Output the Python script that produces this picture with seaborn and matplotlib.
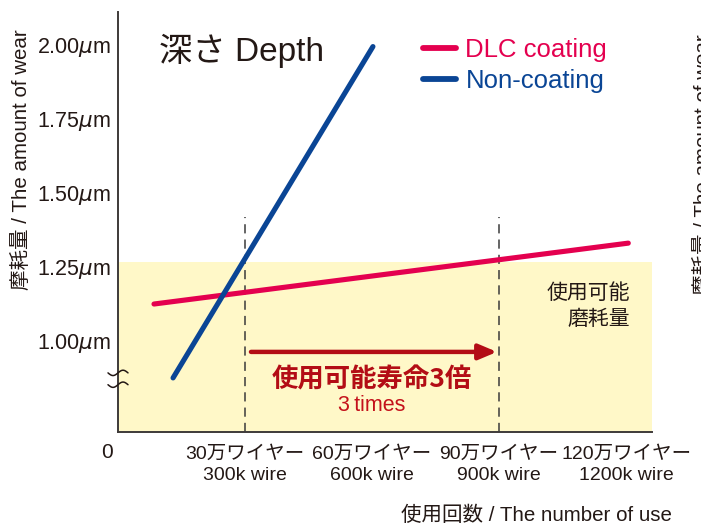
import numpy as np
import pandas as pd
import matplotlib
matplotlib.use("Agg")
import matplotlib.pyplot as plt
from matplotlib.lines import Line2D
import seaborn as sns

# --- data (uses in thousands of wires, wear depth in µm) ---
series_names = ["DLC coating", "Non-coating"]
dlc_uses = [85, 1205]
dlc_wear = [1.122, 1.328]
non_uses = [130, 602]
non_wear = [0.872, 1.993]

xtick_values = [300, 600, 900, 1200]
xtick_labels = ["30万ワイヤー\n300k wire", "60万ワイヤー\n600k wire",
                "90万ワイヤー\n900k wire", "120万ワイヤー\n1200k wire"]
ytick_values = [1.00, 1.25, 1.50, 1.75, 2.00]

usable_limit = 1.265      # top of the usable-wear band
life_start, life_end = 300, 900
life_marker_top = 1.415

colors = {"DLC coating": "#e4004f", "Non-coating": "#0a4595"}
ink = "#231815"
dark_red = "#b30d15"

df = pd.DataFrame({
    "series": ["DLC coating"] * len(dlc_uses) + ["Non-coating"] * len(non_uses),
    "uses": dlc_uses + non_uses,
    "wear": dlc_wear + non_wear,
})

sns.set_theme(style="white")
plt.rcParams["font.family"] = ["Liberation Sans", "Noto Sans CJK JP", "DejaVu Sans"]
plt.rcParams["mathtext.fontset"] = "dejavusans"

fig = plt.figure(figsize=(7.01, 5.24), dpi=100)
W, H = 701, 524
ax = fig.add_axes([118 / W, 1 - 432 / H, (652 - 118) / W, (432 - 12) / H])

xmax = 1261
ymin, ymax = 0.689, 2.11
ax.set_xlim(0, xmax)
ax.set_ylim(ymin, ymax)

# usable-wear band
ax.axhspan(ymin, usable_limit, color="#fff8c8", zorder=0, lw=0)

# dashed markers at 300k and 900k
for xv in (life_start, life_end):
    ax.plot([xv, xv], [ymin, life_marker_top], color="#3a3a3a", lw=1.1,
            dashes=(6, 4), zorder=1)

sns.lineplot(data=df, x="uses", y="wear", hue="series", palette=colors,
             hue_order=series_names, linewidth=3.7, legend=False, sort=False,
             ax=ax, zorder=3)

# three-times life arrow
ax.annotate("", xy=(life_end - 5, 0.96), xytext=(314, 0.96),
            arrowprops=dict(arrowstyle="-|>,head_length=0.9,head_width=0.38",
                            color=dark_red, lw=3.2, shrinkA=0, shrinkB=0),
            zorder=4)
ax.text(600, 0.866, "使用可能寿命3倍", ha="center", va="center",
        fontsize=19, fontweight="bold", color=dark_red,
        family=["Noto Sans CJK JP", "Liberation Sans"])
ax.text(600, 0.780, "3\u2009times", ha="center", va="center",
        fontsize=15.5, color="#c4111b",
        family=["Liberation Sans Narrow", "Liberation Sans"])

ax.text(1209, 1.115, "使用可能\n磨耗量", ha="right", va="center",
        fontsize=15, color=ink, linespacing=1.45)

ax.text(97, 1.98, "深さ Depth", ha="left", va="center", fontsize=24, color=ink)

# axes styling
for side in ("top", "right"):
    ax.spines[side].set_visible(False)
for side in ("left", "bottom"):
    ax.spines[side].set_color("#3e3a39")
    ax.spines[side].set_linewidth(1.4)

ax.set_yticks(ytick_values)
ax.set_yticklabels([f"{v:.2f}$\\mu$m" for v in ytick_values], fontsize=15.5)
ax.set_xticks(xtick_values)
ax.set_xticklabels(xtick_labels, linespacing=1.3, fontsize=14)
ax.tick_params(axis="both", direction="in", length=7, width=1.2,
               color="#3e3a39", labelcolor=ink)
ax.tick_params(axis="y", pad=5)
ax.tick_params(axis="x", pad=10)
ax.set_xlabel("")
ax.set_ylabel("")

ax.annotate("0", xy=(0, 0), xycoords=ax.get_xaxis_transform(),
            xytext=(-11, -21), textcoords="offset pixels",
            ha="center", va="center", fontsize=15, color=ink)

# axis break mark on the value axis
t = np.linspace(-1, 1, 40)
bx = t * 10 / (652 - 118)
for yc in (0.889, 0.849):
    ax.plot(bx, yc + 0.009 * np.sin(t * np.pi), color=ink, lw=1.1,
            transform=ax.get_yaxis_transform(), clip_on=False, zorder=5)

fig.text(22 / W, 1 - 160 / H, "摩耗量 / The amount of wear", rotation=90,
         ha="center", va="center", fontsize=14.8, color=ink)
fig.text(536 / W, 1 - 515 / H, "使用回数 / The number of use",
         ha="center", va="center", fontsize=14.8, color=ink)
fig.text(704 / W, 1 - 165 / H, "摩耗量 / The amount of wear", rotation=90,
         ha="center", va="center", fontsize=14.8, color=ink)

handles = [Line2D([0], [0], color=colors[s], lw=4.2) for s in series_names]
leg = ax.legend(handles, series_names, loc="upper left",
                bbox_to_anchor=(423 / W, 1 - 38 / H),
                bbox_transform=fig.transFigure, frameon=False, fontsize=18.5,
                handlelength=1.3, handletextpad=0.35, labelspacing=0.28,
                borderpad=0, borderaxespad=0)
for txt, s in zip(leg.get_texts(), series_names):
    txt.set_color(colors[s])

fig.savefig("out.png", dpi=100, facecolor="white")
